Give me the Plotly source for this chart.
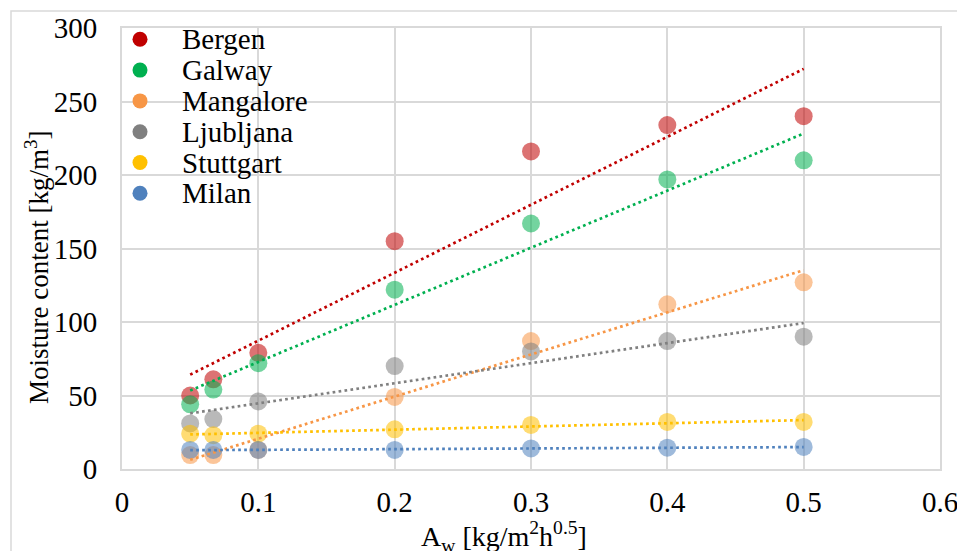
import numpy as np
import plotly.graph_objects as go

# ---- data ----
aw = [0.05, 0.067, 0.1, 0.2, 0.3, 0.4, 0.5]
series_names = ["Bergen", "Galway", "Mangalore", "Ljubljana", "Stuttgart", "Milan"]
bergen = [50, 61, 79, 155, 216, 234, 240]
galway = [44, 54, 72, 122, 167, 197, 210]
mangalore = [9.5, 9.5, 13, 49, 87, 112, 127]
ljubljana = [31, 34, 46, 70, 80, 87, 90]
stuttgart = [24, 23, 24, 27, 30, 32, 32]
milan = [13, 13, 13, 13, 14, 14.5, 15]
x_ticks = [0, 0.1, 0.2, 0.3, 0.4, 0.5, 0.6]
y_ticks = [0, 50, 100, 150, 200, 250, 300]

values = [bergen, galway, mangalore, ljubljana, stuttgart, milan]
colors = ["#C00000", "#00B050", "#F79646", "#808080", "#FFC000", "#4F81BD"]

FONT = "Liberation Serif"
OFF = 8  # page body margin offset
W, H = 965 - OFF, 551 - OFF
L, T = 122 - OFF, 28 - OFF
PW, PH = 818, 441
R, B = W - L - PW, H - T - PH


def px2paper_x(px):  # px in reference-image coordinates
    return (px - OFF - L) / PW


def px2paper_y(py):
    return (T + PH - (py - OFF)) / PH


fig = go.Figure()

# scatter markers (semi-transparent)
for name, vals, col in zip(series_names, values, colors):
    fig.add_trace(go.Scatter(
        x=aw, y=vals, mode="markers", name=name, showlegend=False,
        marker=dict(color=col, size=18, opacity=0.55, line=dict(width=0)),
    ))

# linear trendlines (least squares fit of the data)
for name, vals, col in zip(series_names, values, colors):
    slope, icpt = np.polyfit(aw, vals, 1)
    xs = [aw[0], aw[-1]]
    ys = [slope * xv + icpt for xv in xs]
    fig.add_trace(go.Scatter(
        x=xs, y=ys, mode="lines", showlegend=False, hoverinfo="skip",
        line=dict(color=col, width=2.7, dash="2.7px,3.3px"),
    ))

shapes = []
annotations = []

# outer chart frame
shapes.append(dict(type="rect", xref="paper", yref="paper",
                   x0=px2paper_x(11), x1=px2paper_x(990),
                   y0=px2paper_y(590), y1=px2paper_y(11),
                   line=dict(color="#d9d9d9", width=1.5), layer="below"))

# manual legend
row0, step = 39.3, 30.8
for i, (name, col) in enumerate(zip(series_names, colors)):
    yc = row0 + i * step
    shapes.append(dict(type="circle", xref="paper", yref="paper",
                       xsizemode="pixel", ysizemode="pixel",
                       xanchor=px2paper_x(140), yanchor=px2paper_y(yc),
                       x0=-7.5, x1=7.5, y0=-7.5, y1=7.5,
                       fillcolor=col, line=dict(width=0)))
    annotations.append(dict(text=name, xref="paper", yref="paper",
                            x=px2paper_x(180), y=px2paper_y(yc),
                            xanchor="left", yanchor="middle", showarrow=False,
                            font=dict(family=FONT, size=29, color="black")))

# axis titles
annotations.append(dict(text="Moisture content [kg/m<sup>3</sup>]",
                        xref="paper", yref="paper",
                        x=px2paper_x(37), y=px2paper_y(268),
                        textangle=-90, showarrow=False,
                        xanchor="center", yanchor="middle",
                        font=dict(family=FONT, size=27, color="black")))
annotations.append(dict(text="A<sub>w</sub> [kg/m<sup>2</sup>h<sup>0.5</sup>]",
                        xref="paper", yref="paper",
                        x=px2paper_x(504), y=px2paper_y(536),
                        showarrow=False, xanchor="center", yanchor="middle",
                        font=dict(family=FONT, size=28, color="black")))

axis_common = dict(showgrid=True, gridcolor="#d9d9d9", gridwidth=2,
                   showline=True, linecolor="#d9d9d9", linewidth=2, mirror=True,
                   zeroline=False, ticks="", automargin=False,
                   tickfont=dict(family=FONT, size=29, color="black"))

fig.update_layout(
    width=W, height=H, autosize=False,
    margin=dict(l=L, r=R, t=T, b=B, autoexpand=False),
    paper_bgcolor="white", plot_bgcolor="white",
    showlegend=False,
    font=dict(family=FONT, color="black"),
    xaxis=dict(range=[0, 0.6], tickvals=x_ticks,
               ticktext=[f"{v:g}" for v in x_ticks],
               ticklabelstandoff=6, **axis_common),
    yaxis=dict(range=[0, 300], tickvals=y_ticks,
               ticktext=[str(v) for v in y_ticks],
               ticklabelstandoff=17, **axis_common),
    shapes=shapes,
    annotations=annotations,
)

fig.write_html("out.html")
